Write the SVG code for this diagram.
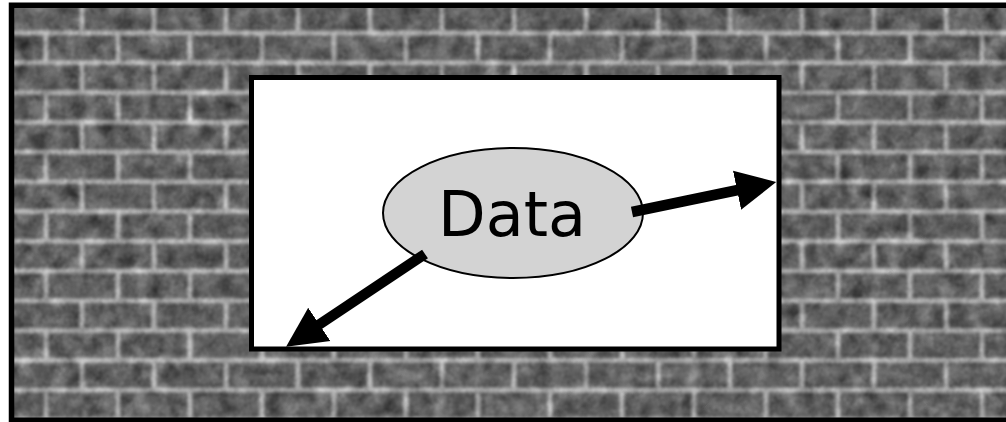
<svg xmlns="http://www.w3.org/2000/svg" width="1006" height="422" viewBox="0 0 1006 422">
  <style>
    .frame { fill: none; stroke: #000; }
    .edge { stroke: #000; stroke-width: 10.5; fill: none; }
    .label { font-family: "DejaVu Sans", sans-serif; font-size: 62px; fill: #000; }
  </style>
  <defs>
    <pattern id="brick" patternUnits="userSpaceOnUse" x="10" y="3.25" width="72" height="59.5">
      <rect width="72" height="59.5" fill="#a8a8a8"/>
      <rect x="2.5" y="2.5" width="67" height="24.75" fill="#5c5c5c"/>
      <rect x="-33.5" y="32.25" width="67" height="24.75" fill="#5c5c5c"/>
      <rect x="38.5" y="32.25" width="67" height="24.75" fill="#5c5c5c"/>
    </pattern>
    <filter id="tex" x="0" y="0" width="100%" height="100%" color-interpolation-filters="sRGB">
      <feGaussianBlur in="SourceGraphic" stdDeviation="1.4" result="b"/>
      <feTurbulence type="fractalNoise" baseFrequency="0.06" numOctaves="3" seed="7" result="n"/>
      <feColorMatrix in="n" type="matrix" values="0.33 0.33 0.33 0 0  0.33 0.33 0.33 0 0  0.33 0.33 0.33 0 0  0 0 0 0 1" result="g"/>
      <feComposite in="b" in2="g" operator="arithmetic" k1="0" k2="1" k3="0.75" k4="-0.36"/>
    </filter>
    <marker id="head" markerUnits="userSpaceOnUse" markerWidth="42" markerHeight="42" refX="1" refY="20" orient="auto" viewBox="0 0 42 40">
      <path d="M0,0 L40,20 L0,40 Z" fill="#000"/>
    </marker>
  </defs>
  <rect width="1006" height="422" fill="#fff"/>
  <g id="wall">
    <rect x="11.5" y="5.25" width="1000" height="415" fill="url(#brick)" filter="url(#tex)"/>
    <rect class="frame" x="11.5" y="5.25" width="1000" height="415" stroke-width="5.5"/>
  </g>
  <g id="window">
    <rect x="251.5" y="77.5" width="527.5" height="271.5" fill="#fff" stroke="#000" stroke-width="5"/>
  </g>
  <g id="data">
    <ellipse cx="513" cy="213" rx="130" ry="65" fill="#d3d3d3" stroke="#000" stroke-width="2"/>
    <text class="label" x="512" y="236" text-anchor="middle">Data</text>
  </g>
  <g id="connectors">
    <line class="edge" x1="425" y1="254" x2="318.5" y2="325" marker-end="url(#head)"/>
    <line class="edge" x1="632" y1="212" x2="738" y2="190" marker-end="url(#head)"/>
  </g>
</svg>
